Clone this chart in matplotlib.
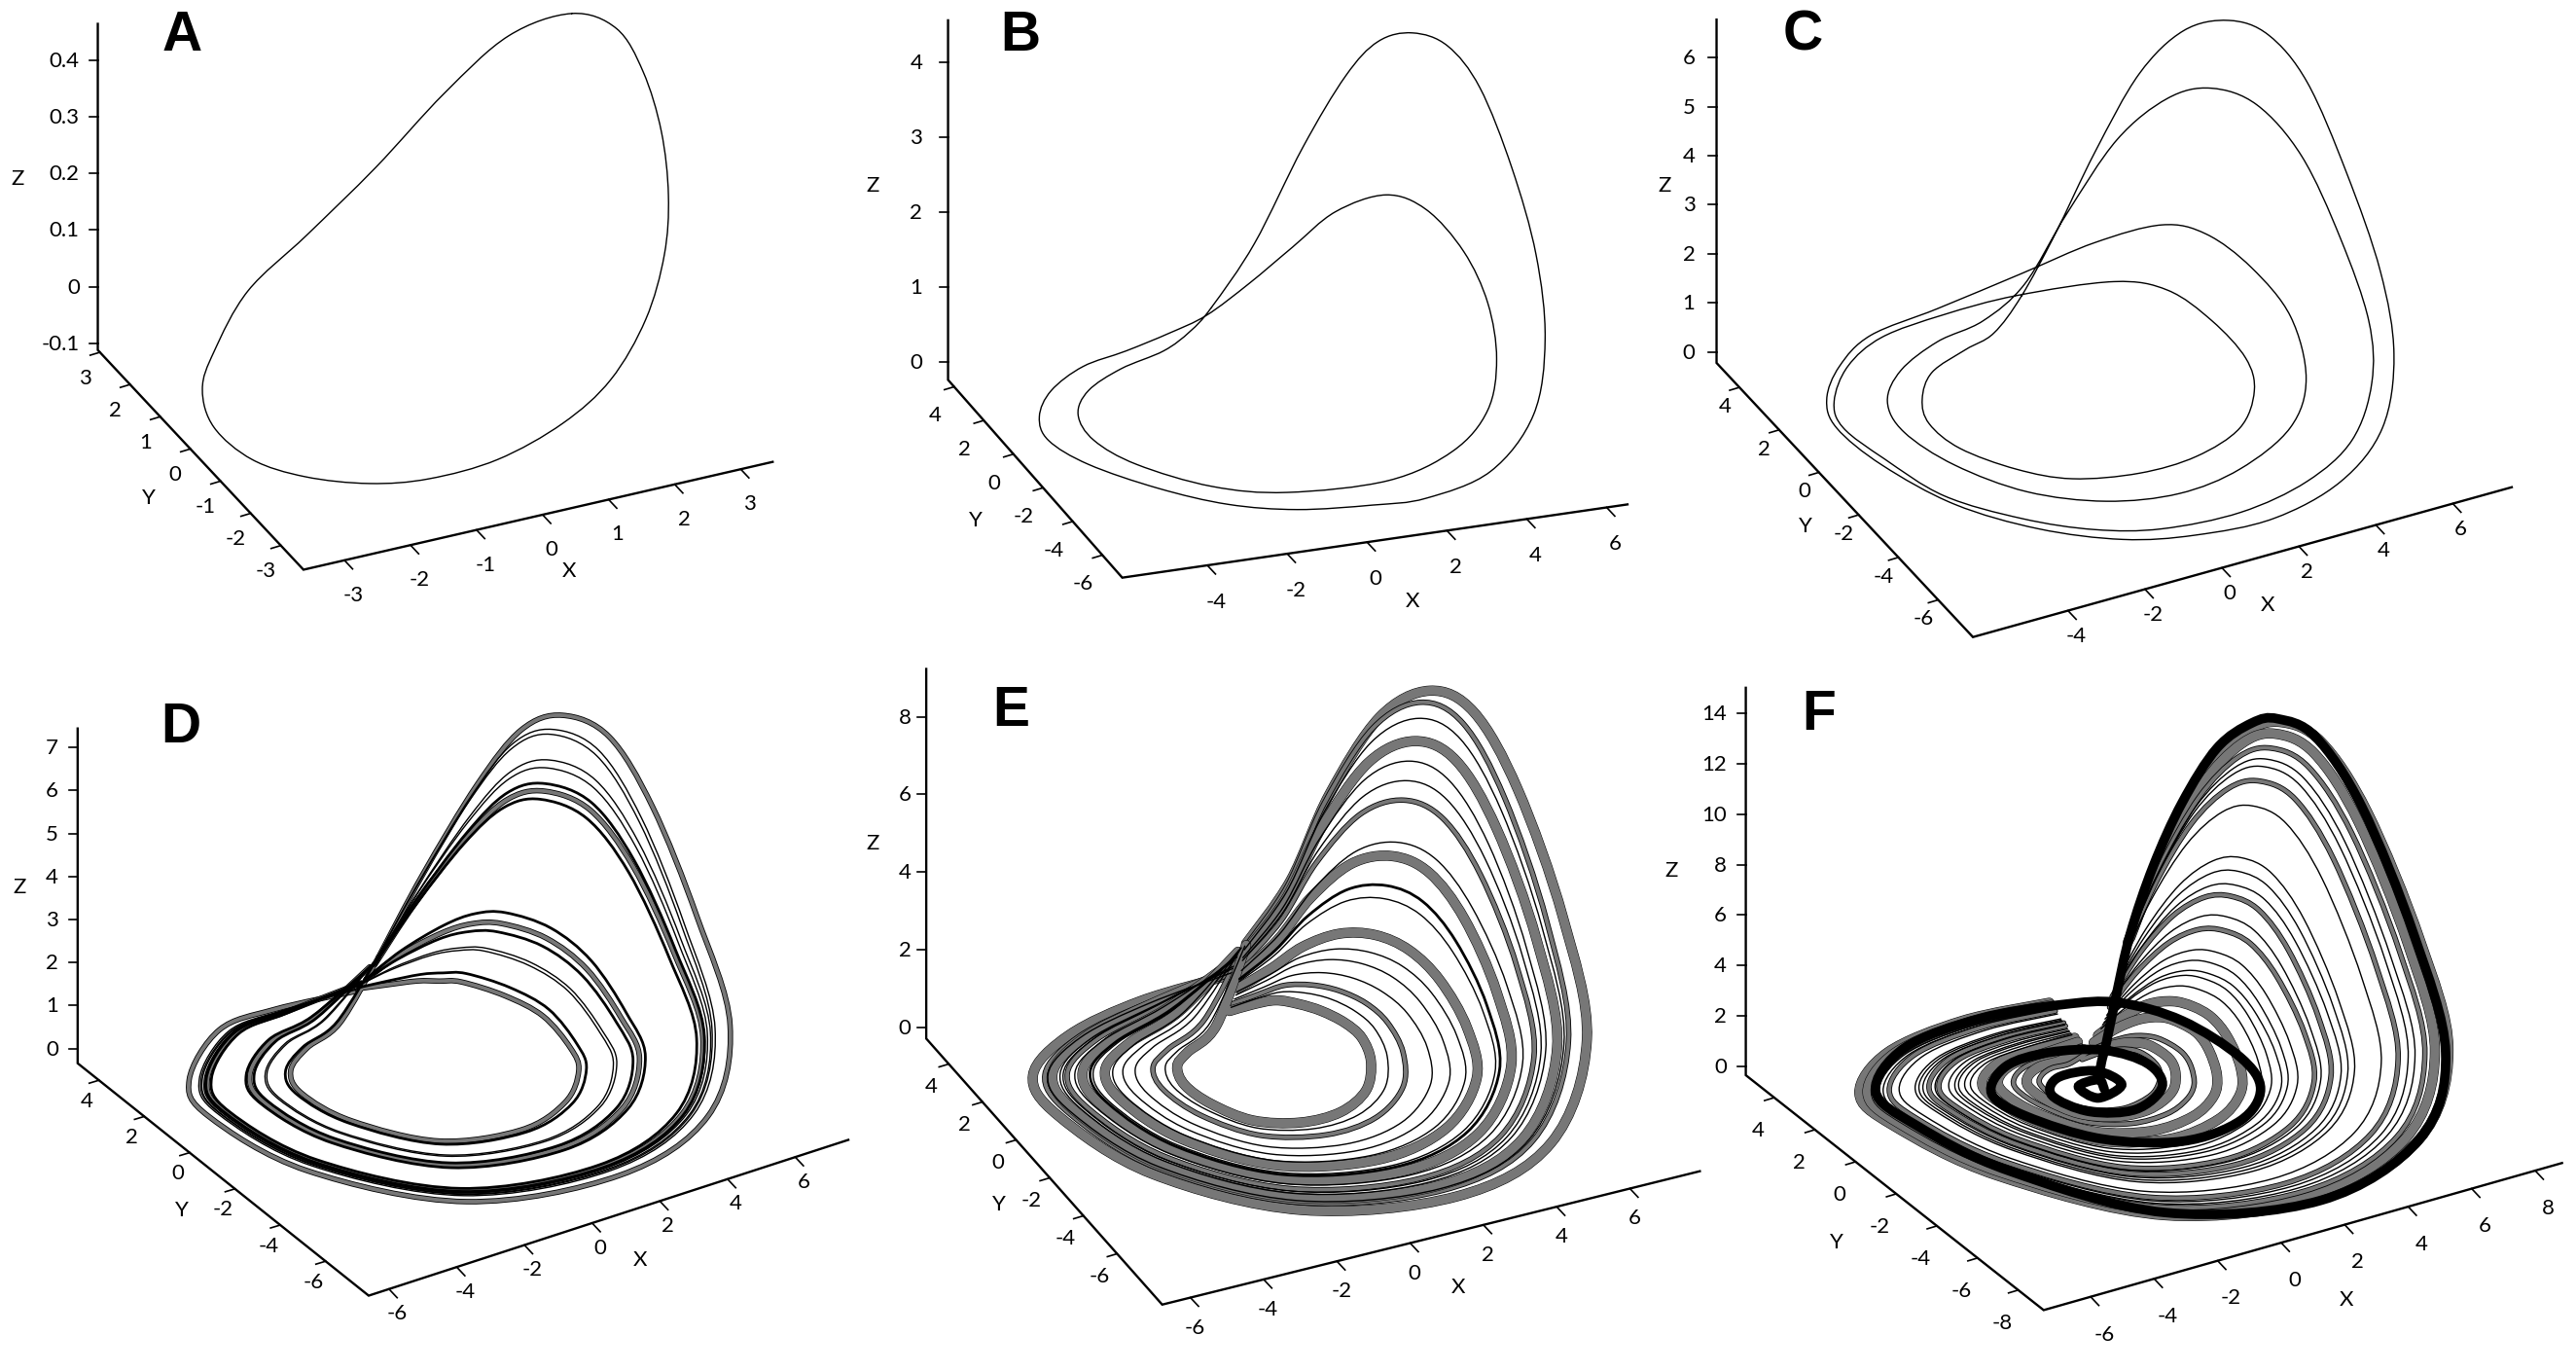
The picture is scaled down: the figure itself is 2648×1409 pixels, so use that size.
"""Redraws six phase portraits (panels A to F) as oblique 3D plots."""
import numpy as np
import matplotlib
matplotlib.use('Agg')
import matplotlib.pyplot as plt
from matplotlib.patches import PathPatch
from matplotlib.path import Path

OUTPUT_FILENAME = 'out.png'
WIDTH, HEIGHT = 2648, 1409

# Values, one closed curve each for A, B, C
A_X = [2.61,3.21,3.5,3.56,3.43,3.08,2.43,1.49,.45,-.72,-1.8,-2.6,-3.32,-3.78,-3.88,-3.58,-2.99,-1.9,-.62,.77,1.63,2.11]
A_Y = [1.0,.83,.58,.11,-.41,-1.04,-1.85,-2.75,-3.44,-3.84,-3.93,-3.7,-3.15,-2.4,-1.35,-.31,.59,1.86,2.72,3.47,3.08,2.0]
A_Z = [.433,.4,.33,.25,.17,.11,.06,.03,.02,.01,.01,.01,.01,.01,.01,.01,.01,.015,.03,.07,.2,.35]

B_X = [.07,1.1,2.14,2.88,3.54,4.18,4.85,5.19,5.8,6.1,5.97,5.41,3.64,1.78,.46,-1.3,-2.73,-3.97,-5.05,-5.47,-5.21,-4.44,-3.26,-1.99,-.8,.09,1.07,1.86,2.78,3.72,4.4,4.85,5.11,5.09,4.62,3.28,1.29,-1.19,-2.74,-3.98,-4.46,-4.31,-3.61,-2.46,-1.16,-.37]
B_Y = [3.33,3.21,2.76,1.86,1.45,.85,.29,-.97,-1.48,-2.31,-3.27,-4.0,-5.87,-6.52,-6.47,-6.13,-5.33,-3.95,-2.16,-.59,.73,2.01,3.04,3.57,3.86,3.73,3.5,2.71,2.28,1.4,.51,-.8,-1.72,-2.37,-3.03,-4.31,-5.3,-5.15,-4.26,-2.53,-.93,.54,1.73,2.63,3.25,3.6]
B_Z = [.5,1.3,2.6,3.7,4.2,4.4,4.3,4.0,3.0,2.0,1.1,.3,.1,.03,.03,.03,.03,.03,.03,.03,.03,.03,.03,.02,.1,.3,.7,1.3,1.8,2.15,2.1,1.8,1.3,.7,.2,.05,.03,.03,.03,.03,.03,.03,.03,.03,.03,.15]

C_X = [.6,1.37,2.25,3.04,3.73,4.49,5.16,5.7,6.21,6.57,6.51,5.56,3.85,1.78,-.15,-1.71,-3.24,-4.5,-5.24,-5.46,-5.11,-4.21,-2.97,-1.17,.76,2.4,3.42,4.01,4.56,5.01,4.75,3.76,2.02,.32,-1.32,-2.76,-3.74,-4.15,-3.9,-3.02,-1.71,-.47,.72,1.57,2.62,3.41,4.13,4.86,5.56,6.05,6.27,5.93,4.79,3.16,1.23,-.7,-2.1,-3.38,-4.55,-5.07,-5.32,-5.0,-4.04,-2.78,-1.12,.52,2.23,3.06,3.59,3.85,3.63,2.78,1.38,-.09,-1.58,-2.55,-3.31,-3.47,-3.14,-2.42,-1.29,-.44]
C_Y = [3.5,3.3,3.0,2.3,1.4,.6,-.1,-1.0,-2.0,-3.0,-3.8,-5.06,-6.28,-6.91,-6.7,-6.07,-4.8,-3.01,-.79,1.06,2.24,3.34,4.17,4.29,3.81,3.29,1.9,.8,-.4,-1.5,-2.79,-3.91,-4.75,-4.98,-4.47,-3.3,-1.55,.21,1.53,2.55,3.24,3.36,3.57,3.1,2.6,1.6,.8,-.1,-1.0,-2.0,-3.0,-3.81,-5.02,-5.91,-6.32,-6.08,-5.41,-4.25,-2.59,-.59,1.0,2.08,3.25,3.98,4.09,3.59,2.0,.9,-.3,-1.49,-2.35,-3.27,-3.79,-3.77,-3.28,-2.34,-.98,.26,1.25,2.15,2.65,2.88]
C_Z = [.31,1.49,3.1,4.83,5.95,6.34,6.2,5.51,3.98,2.33,1.0,.25,.06,.03,.02,0,0,0,0,0,0,0,0,.1,.6,1.1,1.84,2.0,1.72,1.1,.45,.15,.05,.02,0,0,0,0,0,0,0,.1,.5,1.95,3.45,4.55,4.95,4.84,4.03,2.68,1.38,.55,.15,.05,.02,0,0,0,0,0,0,0,0,0,.05,.3,.9,1.02,.8,.5,.25,.08,.03,0,0,0,0,0,0,0,0,.05]

# Panels D, E and F: one row per trip round the loop
D_X = [
    [1.39,2.55,3.77,4.4,4.95,5.66,6.14,6.64,6.82,4.75,1.46,-2.46,-4.99,-5.63,-5.08,-3.13,-1.44,.55],
    [1.31,2.38,3.55,4.16,4.71,5.4,5.87,6.34,6.47,4.5,1.37,-2.36,-4.77,-5.37,-4.84,-2.99,-1.34,.63],
    [1.3,2.34,3.51,4.12,4.66,5.35,5.82,6.28,6.4,4.45,1.35,-2.34,-4.72,-5.32,-4.8,-2.97,-1.32,.65],
    [1.29,2.33,3.49,4.09,4.63,5.32,5.79,6.25,6.36,4.42,1.35,-2.33,-4.7,-5.3,-4.77,-2.95,-1.31,.66],
    [1.27,2.29,3.44,4.05,4.58,5.27,5.74,6.19,6.29,4.37,1.33,-2.31,-4.65,-5.25,-4.72,-2.92,-1.29,.68],
    [1.26,2.26,3.4,4.0,4.53,5.22,5.68,6.13,6.22,4.32,1.31,-2.29,-4.61,-5.19,-4.68,-2.9,-1.27,.69],
    [1.25,2.24,3.38,3.98,4.51,5.19,5.65,6.1,6.18,4.29,1.3,-2.28,-4.59,-5.17,-4.65,-2.88,-1.26,.7],
    [1.22,2.17,3.29,3.88,4.41,5.09,5.55,5.98,6.04,4.19,1.27,-2.24,-4.5,-5.07,-4.56,-2.83,-1.22,.73],
    [.95,1.58,2.55,3.08,3.58,4.2,4.63,4.97,4.84,3.33,.97,-1.89,-3.74,-4.2,-3.75,-2.36,-.87,1.02],
    [.92,1.51,2.47,2.98,3.48,4.09,4.52,4.85,4.7,3.23,.93,-1.85,-3.65,-4.09,-3.66,-2.31,-.83,1.05],
    [.88,1.44,2.38,2.89,3.38,3.99,4.41,4.73,4.55,3.13,.9,-1.81,-3.56,-3.99,-3.56,-2.25,-.79,1.09],
    [.8,1.25,2.14,2.63,3.11,3.7,4.12,4.4,4.17,2.85,.8,-1.7,-3.31,-3.71,-3.3,-2.1,-.68,1.18],
    [.78,1.22,2.1,2.58,3.06,3.65,4.06,4.34,4.09,2.8,.78,-1.67,-3.27,-3.66,-3.26,-2.08,-.65,1.2],
    [.64,.91,1.71,2.16,2.62,3.18,3.58,3.8,3.46,2.35,.62,-1.49,-2.86,-3.2,-2.83,-1.83,-.47,1.35],
    [.6,.82,1.6,2.04,2.5,3.05,3.44,3.65,3.28,2.22,.58,-1.44,-2.75,-3.07,-2.71,-1.76,-.42,1.39],
]
D_Y = [
    [3.6,3.4,2.8,1.8,.8,-.2,-1.4,-2.6,-3.8,-5.92,-6.95,-6.03,-2.78,.62,2.29,3.87,3.97,3.3],
    [3.58,3.31,2.74,1.81,.88,-.13,-1.32,-2.49,-3.66,-5.67,-6.65,-5.76,-2.64,.59,2.2,3.69,3.83,3.33],
    [3.57,3.29,2.73,1.81,.9,-.12,-1.3,-2.47,-3.63,-5.62,-6.59,-5.7,-2.61,.58,2.18,3.65,3.81,3.34],
    [3.57,3.28,2.72,1.81,.9,-.11,-1.3,-2.46,-3.62,-5.59,-6.55,-5.68,-2.6,.58,2.17,3.63,3.79,3.34],
    [3.57,3.27,2.71,1.82,.92,-.1,-1.28,-2.44,-3.59,-5.54,-6.49,-5.62,-2.57,.58,2.15,3.6,3.76,3.35],
    [3.56,3.25,2.7,1.82,.94,-.08,-1.26,-2.41,-3.56,-5.49,-6.43,-5.57,-2.54,.57,2.13,3.56,3.74,3.35],
    [3.56,3.24,2.69,1.82,.94,-.07,-1.26,-2.4,-3.55,-5.46,-6.4,-5.54,-2.53,.57,2.12,3.54,3.72,3.35],
    [3.55,3.2,2.67,1.82,.98,-.05,-1.22,-2.36,-3.49,-5.36,-6.28,-5.43,-2.47,.55,2.08,3.47,3.67,3.37],
    [3.48,2.9,2.46,1.86,1.25,.19,-.95,-1.98,-3.02,-4.5,-5.25,-4.5,-2.0,.45,1.76,2.85,3.2,3.47],
    [3.47,2.87,2.44,1.86,1.28,.22,-.92,-1.94,-2.97,-4.4,-5.13,-4.39,-1.94,.44,1.73,2.77,3.15,3.48],
    [3.47,2.83,2.42,1.86,1.31,.25,-.89,-1.9,-2.91,-4.3,-5.0,-4.28,-1.88,.43,1.69,2.7,3.09,3.49],
    [3.44,2.73,2.35,1.88,1.4,.33,-.8,-1.78,-2.76,-4.02,-4.67,-3.98,-1.73,.4,1.59,2.5,2.94,3.53],
    [3.44,2.71,2.34,1.88,1.42,.34,-.78,-1.75,-2.73,-3.97,-4.61,-3.93,-1.7,.39,1.57,2.46,2.92,3.53],
    [3.4,2.55,2.23,1.9,1.56,.47,-.64,-1.56,-2.48,-3.52,-4.06,-3.44,-1.45,.34,1.4,2.13,2.67,3.59],
    [3.39,2.51,2.2,1.9,1.6,.5,-.6,-1.5,-2.41,-3.39,-3.91,-3.3,-1.38,.32,1.35,2.04,2.6,3.6],
]
D_Z = [
    [.65,2.34,4.39,5.92,6.54,6.28,5.03,2.87,.79,.1,0,0,0,0,0,0,0,.2],
    [.63,2.25,4.2,5.66,6.24,6.0,4.8,2.73,.75,.1,0,0,0,0,0,0,0,.22],
    [.62,2.22,4.13,5.55,6.13,5.88,4.71,2.68,.74,.09,0,0,0,0,0,0,0,.23],
    [.57,2.04,3.75,5.02,5.54,5.32,4.26,2.4,.66,.08,0,0,0,0,0,0,0,.28],
    [.56,2.0,3.64,4.86,5.36,5.15,4.13,2.32,.64,.08,0,0,0,0,0,0,0,.29],
    [.53,1.89,3.41,4.55,5.0,4.81,3.86,2.15,.6,.07,0,0,0,0,0,0,0,.32],
    [.52,1.84,3.3,4.39,4.83,4.64,3.72,2.07,.58,.07,0,0,0,0,0,0,0,.33],
    [.51,1.78,3.19,4.23,4.65,4.47,3.59,1.98,.55,.07,0,0,0,0,0,0,0,.34],
    [.31,1.04,1.57,1.96,2.11,2.04,1.65,.79,.24,.03,0,0,0,0,0,0,0,.54],
    [.29,.97,1.42,1.75,1.87,1.82,1.47,.68,.21,.02,0,0,0,0,0,0,0,.56],
    [.28,.91,1.31,1.59,1.69,1.65,1.33,.6,.18,.02,0,0,0,0,0,0,0,.57],
    [.25,.81,1.08,1.27,1.34,1.31,1.06,.43,.14,.01,0,0,0,0,0,0,0,.6],
    [.25,.79,1.04,1.22,1.28,1.25,1.02,.4,.13,.01,0,0,0,0,0,0,0,.6],
    [.21,.65,.74,.8,.81,.8,.66,.18,.07,0,0,0,0,0,0,0,0,.64],
    [.2,.6,.63,.64,.63,.63,.52,.1,.05,0,0,0,0,0,0,0,0,.65],
]
D_WEIGHTS = ['band','line','line','line','line','heavy','band','heavy','heavy','band','heavy','line','line','heavy','band']

E_X = [
    [1.2,2.32,3.15,4.07,4.89,5.6,6.25,6.79,6.81,4.84,1.74,-2.0,-4.62,-5.57,-5.33,-3.72,-1.44,.83],
    [1.12,2.19,2.99,3.86,4.64,5.32,5.93,6.42,6.39,4.5,1.57,-1.94,-4.4,-5.28,-5.05,-3.53,-1.34,.86],
    [1.1,2.16,2.96,3.81,4.58,5.25,5.85,6.32,6.29,4.42,1.53,-1.92,-4.34,-5.21,-4.98,-3.48,-1.32,.87],
    [1.07,2.11,2.9,3.74,4.49,5.15,5.73,6.18,6.13,4.29,1.46,-1.9,-4.26,-5.1,-4.87,-3.41,-1.28,.88],
    [1.02,2.03,2.8,3.61,4.34,4.97,5.54,5.95,5.87,4.08,1.36,-1.87,-4.11,-4.92,-4.69,-3.29,-1.22,.9],
    [1.0,2.0,2.76,3.56,4.28,4.9,5.46,5.86,5.76,3.99,1.32,-1.85,-4.06,-4.85,-4.62,-3.24,-1.2,.91],
    [.98,1.95,2.7,3.48,4.19,4.8,5.34,5.72,5.6,3.87,1.25,-1.83,-3.97,-4.75,-4.52,-3.17,-1.17,.92],
    [.93,1.87,2.61,3.35,4.03,4.63,5.14,5.49,5.34,3.66,1.15,-1.8,-3.83,-4.57,-4.34,-3.05,-1.11,.94],
    [.88,1.79,2.51,3.22,3.88,4.45,4.94,5.25,5.08,3.45,1.04,-1.76,-3.69,-4.39,-4.16,-2.93,-1.05,.96],
    [.83,1.71,2.41,3.1,3.73,4.28,4.74,5.02,4.81,3.24,.94,-1.73,-3.55,-4.21,-3.98,-2.81,-.99,.98],
    [.81,1.68,2.37,3.04,3.66,4.21,4.66,4.93,4.71,3.16,.89,-1.71,-3.49,-4.14,-3.91,-2.76,-.96,.99],
    [.73,1.56,2.22,2.84,3.42,3.93,4.35,4.56,4.29,2.83,.73,-1.66,-3.27,-3.85,-3.63,-2.57,-.87,1.02],
    [.68,1.48,2.12,2.71,3.27,3.76,4.15,4.32,4.02,2.62,.62,-1.62,-3.12,-3.67,-3.45,-2.45,-.81,1.04],
    [.61,1.36,1.98,2.53,3.05,3.51,3.87,4.0,3.65,2.32,.47,-1.57,-2.93,-3.42,-3.21,-2.28,-.73,1.07],
    [.53,1.24,1.83,2.33,2.81,3.23,3.55,3.63,3.23,1.99,.3,-1.51,-2.7,-3.13,-2.92,-2.09,-.63,1.1],
    [.42,1.05,1.59,2.02,2.44,2.82,3.07,3.07,2.6,1.48,.05,-1.43,-2.36,-2.7,-2.5,-1.8,-.49,1.15],
    [.34,.92,1.44,1.82,2.2,2.54,2.76,2.7,2.18,1.15,-.12,-1.37,-2.13,-2.42,-2.21,-1.61,-.4,1.18],
    [.26,.79,1.28,1.61,1.95,2.26,2.44,2.32,1.76,.81,-.29,-1.31,-1.91,-2.13,-1.93,-1.42,-.3,1.21],
]
E_Y = [
    [3.68,3.48,2.98,1.99,.8,-.29,-1.48,-2.97,-4.36,-6.52,-7.65,-6.57,-3.41,.11,2.13,3.48,4.18,3.84],
    [3.59,3.39,2.91,1.94,.8,-.26,-1.4,-2.83,-4.18,-6.21,-7.24,-6.2,-3.21,.11,2.03,3.31,4.01,3.83],
    [3.57,3.37,2.89,1.93,.8,-.25,-1.38,-2.79,-4.13,-6.13,-7.14,-6.11,-3.16,.11,2.0,3.27,3.97,3.82],
    [3.53,3.33,2.86,1.92,.81,-.23,-1.35,-2.74,-4.07,-6.02,-6.99,-5.97,-3.09,.1,1.97,3.21,3.91,3.82],
    [3.48,3.28,2.81,1.89,.81,-.21,-1.29,-2.65,-3.96,-5.82,-6.74,-5.75,-2.96,.1,1.91,3.1,3.8,3.81],
    [3.46,3.26,2.8,1.88,.81,-.2,-1.27,-2.62,-3.91,-5.74,-6.63,-5.65,-2.91,.1,1.88,3.06,3.76,3.81],
    [3.42,3.22,2.77,1.86,.81,-.19,-1.24,-2.57,-3.85,-5.63,-6.48,-5.52,-2.84,.1,1.85,3.0,3.7,3.81],
    [3.37,3.17,2.72,1.83,.81,-.17,-1.19,-2.48,-3.74,-5.43,-6.23,-5.29,-2.72,.1,1.79,2.89,3.59,3.8],
    [3.31,3.11,2.67,1.8,.81,-.14,-1.14,-2.39,-3.63,-5.24,-5.98,-5.06,-2.59,.1,1.73,2.79,3.49,3.79],
    [3.26,3.06,2.63,1.78,.82,-.12,-1.09,-2.31,-3.52,-5.04,-5.72,-4.83,-2.47,.09,1.67,2.68,3.38,3.78],
    [3.23,3.03,2.61,1.76,.82,-.11,-1.07,-2.27,-3.47,-4.96,-5.62,-4.74,-2.42,.09,1.64,2.64,3.34,3.78],
    [3.15,2.95,2.54,1.72,.82,-.08,-.99,-2.14,-3.3,-4.65,-5.22,-4.38,-2.22,.09,1.55,2.47,3.18,3.77],
    [3.09,2.89,2.49,1.69,.82,-.05,-.93,-2.05,-3.18,-4.46,-4.96,-4.15,-2.1,.09,1.48,2.37,3.07,3.76],
    [3.01,2.81,2.42,1.65,.82,-.02,-.86,-1.93,-3.03,-4.18,-4.61,-3.83,-1.92,.09,1.4,2.22,2.92,3.75],
    [2.92,2.72,2.35,1.61,.83,.02,-.78,-1.79,-2.85,-3.87,-4.2,-3.46,-1.72,.08,1.3,2.05,2.76,3.74],
    [2.79,2.59,2.24,1.54,.83,.07,-.66,-1.58,-2.59,-3.4,-3.59,-2.91,-1.43,.08,1.16,1.8,2.51,3.73],
    [2.7,2.5,2.16,1.5,.84,.11,-.57,-1.44,-2.41,-3.09,-3.19,-2.55,-1.23,.07,1.06,1.63,2.34,3.71],
    [2.61,2.41,2.09,1.45,.84,.14,-.49,-1.3,-2.23,-2.78,-2.78,-2.18,-1.03,.07,.96,1.46,2.17,3.7],
]
E_Z = [
    [1.1,2.56,4.83,7.09,8.16,7.97,6.41,3.74,1.25,.1,0,0,0,0,0,0,0,.3],
    [1.07,2.49,4.69,6.88,7.92,7.73,6.22,3.63,1.21,.1,0,0,0,0,0,0,0,.32],
    [1.02,2.36,4.45,6.53,7.52,7.34,5.9,3.44,1.15,.09,0,0,0,0,0,0,.01,.36],
    [.94,2.19,4.12,6.04,6.95,6.79,5.46,3.18,1.06,.09,0,0,0,0,0,0,.02,.42],
    [.88,2.04,3.84,5.63,6.47,6.31,5.07,2.96,.99,.08,0,0,0,0,0,0,.02,.47],
    [.82,1.9,3.56,5.21,5.98,5.84,4.69,2.74,.91,.07,0,0,0,0,0,0,.03,.52],
    [.75,1.75,3.28,4.79,5.5,5.37,4.31,2.51,.84,.07,0,0,0,0,0,0,.03,.56],
    [.62,1.43,2.66,3.88,4.45,4.34,3.48,2.03,.68,.05,0,0,0,0,0,0,.05,.67],
    [.58,1.33,2.48,3.61,4.13,4.03,3.23,1.88,.63,.05,0,0,0,0,0,0,.05,.7],
    [.48,1.11,2.05,2.98,3.4,3.32,2.66,1.55,.51,.04,0,0,0,0,0,0,.06,.77],
    [.44,1.01,1.86,2.7,3.08,3.0,2.4,1.4,.46,.04,0,0,0,0,0,0,.06,.8],
    [.32,.74,1.34,1.93,2.2,2.13,1.7,.99,.33,.03,0,0,0,0,0,0,.07,.89],
    [.27,.62,1.11,1.58,1.79,1.74,1.39,.8,.26,.02,0,0,0,0,0,0,.08,.93],
    [.24,.54,.97,1.37,1.55,1.5,1.19,.69,.23,.02,0,0,0,0,0,0,.08,.96],
    [.2,.44,.78,1.1,1.23,1.18,.94,.54,.18,.01,0,0,0,0,0,0,.09,.99],
    [.17,.37,.64,.89,.99,.95,.75,.43,.14,.01,0,0,0,0,0,0,.09,1.01],
    [.14,.32,.54,.75,.83,.79,.62,.35,.11,.01,0,0,0,0,0,0,.09,1.03],
    [.11,.25,.4,.54,.58,.55,.43,.24,.08,.01,0,0,0,0,0,0,.09,1.05],
]
E_WEIGHTS = ['wide','band','line','wide','line','line','band','line','wide','heavy','line','wide','line','line','line','band','line','wide']

F_X = [
    [2.77,3.8,4.82,5.58,6.17,6.87,7.49,8.11,7.99,5.88,1.98,-2.15,-4.87,-5.81,-5.65,-3.8,-1.13,1.05],
    [2.66,3.67,4.66,5.4,5.97,6.64,7.22,7.8,7.66,5.62,1.87,-2.1,-4.71,-5.61,-5.44,-3.65,-1.08,1.03],
    [2.58,3.57,4.55,5.27,5.82,6.46,7.02,7.57,7.42,5.43,1.78,-2.07,-4.59,-5.46,-5.29,-3.54,-1.04,1.02],
    [2.5,3.48,4.43,5.14,5.67,6.29,6.82,7.33,7.18,5.24,1.7,-2.03,-4.48,-5.31,-5.13,-3.44,-1.0,1.01],
    [2.45,3.41,4.35,5.05,5.57,6.17,6.68,7.18,7.01,5.11,1.64,-2.01,-4.4,-5.21,-5.03,-3.36,-.97,1.0],
    [2.37,3.31,4.23,4.91,5.42,6.0,6.48,6.94,6.77,4.91,1.56,-1.97,-4.28,-5.06,-4.87,-3.25,-.93,.98],
    [2.24,3.15,4.04,4.69,5.17,5.7,6.14,6.55,6.36,4.59,1.41,-1.92,-4.08,-4.8,-4.61,-3.07,-.87,.96],
    [2.03,2.89,3.73,4.33,4.77,5.23,5.6,5.93,5.71,4.08,1.19,-1.82,-3.76,-4.4,-4.19,-2.78,-.76,.93],
    [1.97,2.83,3.65,4.25,4.67,5.12,5.47,5.78,5.55,3.95,1.13,-1.8,-3.69,-4.3,-4.09,-2.71,-.74,.92],
    [1.92,2.76,3.57,4.16,4.57,5.0,5.33,5.62,5.38,3.82,1.07,-1.78,-3.61,-4.2,-3.99,-2.63,-.71,.91],
    [1.84,2.66,3.45,4.02,4.42,4.82,5.13,5.39,5.14,3.63,.99,-1.74,-3.49,-4.05,-3.83,-2.52,-.67,.9],
    [1.76,2.57,3.33,3.89,4.27,4.65,4.93,5.15,4.89,3.43,.9,-1.71,-3.37,-3.9,-3.67,-2.41,-.63,.88],
    [1.71,2.5,3.26,3.8,4.17,4.53,4.79,5.0,4.73,3.3,.85,-1.68,-3.29,-3.8,-3.57,-2.34,-.61,.87],
    [1.57,2.34,3.06,3.58,3.92,4.24,4.46,4.61,4.32,2.98,.71,-1.62,-3.09,-3.55,-3.31,-2.16,-.54,.85],
    [1.49,2.24,2.94,3.44,3.77,4.06,4.25,4.38,4.08,2.79,.62,-1.59,-2.97,-3.4,-3.15,-2.05,-.5,.84],
    [1.44,2.18,2.87,3.36,3.67,3.95,4.12,4.22,3.92,2.66,.57,-1.57,-2.9,-3.3,-3.05,-1.98,-.48,.83],
    [1.36,2.08,2.75,3.22,3.51,3.77,3.92,3.99,3.67,2.47,.48,-1.53,-2.78,-3.14,-2.89,-1.87,-.44,.82],
    [1.28,1.98,2.63,3.09,3.36,3.59,3.72,3.75,3.43,2.27,.4,-1.49,-2.66,-2.99,-2.74,-1.76,-.4,.8],
    [1.12,1.79,2.4,2.82,3.06,3.24,3.31,3.29,2.94,1.89,.23,-1.42,-2.42,-2.69,-2.43,-1.54,-.32,.78],
    [.91,1.53,2.08,2.47,2.66,2.78,2.77,2.66,2.29,1.37,0,-1.33,-2.11,-2.29,-2.01,-1.25,-.21,.74],
    [.7,1.27,1.77,2.11,2.26,2.31,2.23,2.04,1.63,.86,-.23,-1.24,-1.79,-1.89,-1.59,-.95,-.11,.71],
    [.51,1.04,1.5,1.8,1.91,1.9,1.76,1.5,1.06,.41,-.43,-1.16,-1.51,-1.53,-1.23,-.7,-.02,.68],
    [.32,.81,1.22,1.49,1.56,1.49,1.29,.95,.49,-.04,-.62,-1.07,-1.24,-1.18,-.87,-.44,.08,.65],
]
F_Y = [
    [2.5,2.4,2.0,1.2,.4,-.5,-1.8,-3.4,-5.0,-6.87,-8.13,-6.89,-2.88,.77,2.67,4.18,4.66,3.79],
    [2.44,2.33,1.94,1.15,.37,-.52,-1.78,-3.32,-4.85,-6.63,-7.83,-6.62,-2.75,.77,2.6,4.06,4.51,3.68],
    [2.39,2.28,1.89,1.12,.34,-.53,-1.76,-3.25,-4.73,-6.46,-7.6,-6.41,-2.65,.77,2.55,3.96,4.4,3.6],
    [2.34,2.23,1.85,1.09,.32,-.54,-1.74,-3.19,-4.62,-6.28,-7.38,-6.21,-2.55,.77,2.51,3.87,4.3,3.52],
    [2.31,2.2,1.82,1.06,.3,-.55,-1.73,-3.15,-4.55,-6.16,-7.22,-6.07,-2.48,.77,2.47,3.81,4.22,3.47],
    [2.26,2.15,1.77,1.03,.27,-.57,-1.71,-3.09,-4.43,-5.99,-7.0,-5.87,-2.38,.77,2.42,3.72,4.11,3.39],
    [2.18,2.07,1.69,.97,.23,-.59,-1.68,-2.98,-4.24,-5.69,-6.62,-5.53,-2.22,.77,2.34,3.56,3.93,3.25],
    [2.05,1.94,1.57,.88,.16,-.62,-1.64,-2.82,-3.94,-5.22,-6.02,-4.99,-1.95,.78,2.21,3.31,3.64,3.04],
    [2.02,1.9,1.54,.86,.15,-.63,-1.63,-2.78,-3.86,-5.11,-5.87,-4.85,-1.89,.78,2.18,3.25,3.57,2.99],
    [1.99,1.87,1.51,.84,.13,-.64,-1.61,-2.73,-3.79,-4.99,-5.72,-4.71,-1.82,.78,2.14,3.19,3.49,2.93],
    [1.94,1.82,1.46,.8,.1,-.65,-1.6,-2.67,-3.67,-4.81,-5.49,-4.51,-1.72,.78,2.09,3.1,3.38,2.85],
    [1.9,1.77,1.41,.77,.08,-.67,-1.58,-2.61,-3.56,-4.64,-5.26,-4.31,-1.62,.78,2.04,3.0,3.27,2.77],
    [1.86,1.74,1.38,.75,.06,-.68,-1.57,-2.57,-3.48,-4.52,-5.11,-4.17,-1.56,.78,2.01,2.94,3.2,2.72],
    [1.78,1.65,1.31,.69,.02,-.7,-1.54,-2.46,-3.29,-4.22,-4.74,-3.83,-1.39,.78,1.93,2.79,3.02,2.58],
    [1.74,1.6,1.26,.66,0,-.71,-1.52,-2.4,-3.18,-4.05,-4.51,-3.63,-1.29,.78,1.88,2.69,2.91,2.5],
    [1.71,1.57,1.23,.64,-.02,-.72,-1.51,-2.36,-3.11,-3.93,-4.36,-3.49,-1.23,.78,1.85,2.63,2.84,2.45],
    [1.66,1.52,1.18,.6,-.05,-.73,-1.49,-2.3,-2.99,-3.75,-4.13,-3.29,-1.13,.78,1.8,2.54,2.73,2.37],
    [1.61,1.47,1.14,.57,-.08,-.75,-1.48,-2.24,-2.88,-3.58,-3.91,-3.08,-1.03,.78,1.75,2.44,2.62,2.29],
    [1.51,1.37,1.05,.5,-.13,-.77,-1.44,-2.11,-2.65,-3.22,-3.46,-2.67,-.83,.78,1.65,2.26,2.4,2.13],
    [1.39,1.24,.92,.41,-.2,-.81,-1.39,-1.94,-2.35,-2.75,-2.85,-2.13,-.56,.78,1.52,2.01,2.11,1.91],
    [1.26,1.11,.8,.32,-.26,-.84,-1.35,-1.78,-2.04,-2.28,-2.25,-1.59,-.3,.79,1.38,1.76,1.81,1.7],
    [1.15,.99,.69,.24,-.32,-.87,-1.31,-1.63,-1.78,-1.87,-1.72,-1.11,-.07,.79,1.27,1.55,1.56,1.51],
    [1.04,.87,.58,.16,-.38,-.9,-1.27,-1.49,-1.51,-1.46,-1.19,-.63,.17,.79,1.15,1.33,1.3,1.32],
]
F_Z = [
    [3.28,6.44,9.28,11.24,11.96,11.49,9.3,5.05,1.74,.14,0,0,0,0,0,0,0,.49],
    [3.18,6.24,9.0,10.89,11.59,11.13,9.01,4.89,1.68,.14,0,0,0,0,0,0,0,.48],
    [3.05,5.98,8.61,10.42,11.09,10.65,8.62,4.68,1.61,.13,0,0,0,0,0,0,0,.47],
    [2.95,5.78,8.32,10.07,10.72,10.29,8.33,4.52,1.56,.13,0,0,0,0,0,0,0,.46],
    [2.88,5.64,8.13,9.84,10.47,10.05,8.14,4.42,1.52,.13,0,0,0,0,0,0,0,.45],
    [2.75,5.38,7.75,9.37,9.97,9.58,7.75,4.21,1.45,.12,0,0,0,0,0,0,0,.44],
    [2.51,4.91,7.07,8.56,9.1,8.74,7.07,3.84,1.32,.11,0,0,0,0,0,0,0,.42],
    [2.0,3.91,5.63,6.8,7.23,6.94,5.62,3.05,1.05,.09,0,0,0,0,0,0,0,.37],
    [1.87,3.65,5.24,6.34,6.73,6.46,5.23,2.84,.98,.08,0,0,0,0,0,0,0,.36],
    [1.74,3.38,4.86,5.87,6.23,5.99,4.85,2.63,.91,.08,0,0,0,0,0,0,0,.35],
    [1.63,3.18,4.57,5.52,5.86,5.63,4.55,2.47,.85,.07,0,0,0,0,0,0,0,.34],
    [1.43,2.78,3.99,4.82,5.11,4.91,3.97,2.16,.74,.06,0,0,0,0,0,0,0,.32],
    [1.3,2.51,3.61,4.35,4.61,4.43,3.59,1.95,.67,.06,0,0,0,0,0,0,0,.31],
    [1.09,2.11,3.03,3.65,3.86,3.71,3.0,1.63,.56,.05,0,0,0,0,0,0,0,.29],
    [.99,1.91,2.74,3.3,3.49,3.35,2.71,1.47,.51,.04,0,0,0,0,0,0,0,.28],
    [.89,1.72,2.46,2.95,3.12,2.99,2.42,1.32,.45,.04,0,0,0,0,0,0,0,.28],
    [.86,1.65,2.36,2.83,2.99,2.87,2.33,1.26,.43,.04,0,0,0,0,0,0,0,.27],
    [.76,1.45,2.07,2.48,2.62,2.51,2.03,1.1,.38,.03,0,0,0,0,0,0,0,.26],
    [.62,1.18,1.69,2.01,2.12,2.03,1.65,.89,.31,.03,0,0,0,0,0,0,0,.25],
    [.49,.92,1.3,1.55,1.62,1.56,1.26,.68,.24,.02,0,0,0,0,0,0,0,.24],
    [.32,.58,.82,.96,1.0,.96,.78,.42,.14,.01,0,0,0,0,0,0,0,.22],
    [.29,.52,.72,.85,.87,.84,.68,.37,.13,.01,0,0,0,0,0,0,0,.22],
    [.25,.45,.63,.73,.75,.72,.58,.32,.11,.01,0,0,0,0,0,0,0,.22],
]
F_WEIGHTS = ['wide','wide','band','line','line','band','line','line','line','line','band','line','band','line','line','line','line','line','wide','wide','band','wide','band']

# The thick black run through panel F, from the centre up the spike and back in
F_SPIRAL_X = [.29,.67,.79,1.02,1.45,2.13,3.04,4.12,5.0,5.5,6.29,7.15,8.16,8.17,5.92,1.91,-2.07,-4.46,-5.27,-5.21,-3.27,-.66,1.18,2.36,3.37,3.94,3.7,2.37,.43,-1.38,-2.46,-2.59,-1.45,-.05,1.18,1.9,1.56,.29,-.85,-1.25,-.59,.48,.69,-.25,-.38,.29,.15]
F_SPIRAL_Y = [.19,.63,.59,.48,.44,.37,.37,.34,0,-.49,-1.12,-2.06,-3.03,-4.58,-6.82,-8.24,-6.77,-2.82,.47,2.56,4.17,4.54,3.42,2.42,.88,-1.08,-2.46,-3.54,-3.73,-2.56,-.54,.95,2.01,2.08,1.29,.28,-.96,-1.66,-1.16,.06,.81,.63,-.33,-.65,.13,.19,-.31]
F_SPIRAL_Z = [0,.3,1.0,2.8,5.2,7.7,9.9,11.7,12.6,12.9,12.3,9.8,5.0,1.3,.1,0,0,0,0,0,0,0,.6,.9,.8,.4,.1,0,0,0,0,0,0,0,.15,0,0,0,0,0,0,0,0,0,0,0,0]

# Tick values of each panel
A_XTICKS, A_YTICKS, A_ZTICKS = [-3,-2,-1,0,1,2,3], [-3,-2,-1,0,1,2,3], [-0.1,0,0.1,0.2,0.3,0.4]
B_XTICKS, B_YTICKS, B_ZTICKS = [-4,-2,0,2,4,6], [-6,-4,-2,0,2,4], [0,1,2,3,4]
C_XTICKS, C_YTICKS, C_ZTICKS = [-4,-2,0,2,4,6], [-6,-4,-2,0,2,4], [0,1,2,3,4,5,6]
D_XTICKS, D_YTICKS, D_ZTICKS = [-6,-4,-2,0,2,4,6], [-6,-4,-2,0,2,4], [0,1,2,3,4,5,6,7]
E_XTICKS, E_YTICKS, E_ZTICKS = [-6,-4,-2,0,2,4,6], [-6,-4,-2,0,2,4], [0,2,4,6,8]
F_XTICKS, F_YTICKS, F_ZTICKS = [-6,-4,-2,0,2,4,6,8], [-8,-6,-4,-2,0,2,4], [0,2,4,6,8,10,12,14]

# Oblique view of each panel in figure pixels: where (0,0,0) lands, what one
# unit of x, y, z moves by, the axis ranges, label offsets and label places
GEOMETRY = {
    'A': dict(origin=(441.5, 339.7), ex=(67.9, -15.6), ey=(-31.0, -33.1), ez=(0, -582.0),
              xlim=(-3.62, 3.5), ylim=(-3.75, 3.07), zlim=(-.112, .466),
              xoff=(9.4, 36), yoff=(-15.4, 26.6), zoff=-18.7,
              letter=(187, 37), xlabel=(585, 587), ylabel=(153, 512), zlabel=(18, 184)),
    'B': dict(origin=(1293.4, 412.2), ex=(41.05, -5.95), ey=(-15.24, -17.3), ez=(0, -77.0),
              xlim=(-6.13, 6.55), ylim=(-7.34, 4.41), zlim=(-.234, 4.58),
              xoff=(8.8, 37.7), yoff=(-19.8, 30), zoff=-26.4,
              letter=(1049, 37), xlabel=(1452, 618), ylabel=(1003, 535), zlabel=(897, 191)),
    'C': dict(origin=(2125.7, 403.0), ex=(39.56, -11.0), ey=(-20.43, -21.84), ez=(0, -50.4),
              xlim=(-6.47, 7.56), ylim=(-7.75, 5.15), zlim=(-.224, 6.8),
              xoff=(8, 26.6), yoff=(-15, 20), zoff=-22,
              letter=(1853, 37), xlabel=(2331, 622), ylabel=(1856, 541), zlabel=(1711, 191)),
    'D': dict(origin=(424.6, 1095.0), ex=(34.8, -11.3), ey=(-23.3, -18.6), ez=(0, -44.2),
              xlim=(-6.6, 7.6), ylim=(-7.9, 4.94), zlim=(-.34, 7.47),
              xoff=(8.5, 25.7), yoff=(-12.4, 21.5), zoff=-20,
              letter=(186, 748), xlabel=(658, 1295), ylabel=(187, 1244), zlabel=(20, 912)),
    'E': dict(origin=(1299.4, 1096.7), ex=(37.65, -9.34), ey=(-17.3, -19.5), ez=(0, -39.9),
              xlim=(-6.77, 7.94), ylim=(-8.68, 5.34), zlim=(-.29, 9.26),
              xoff=(4.6, 31), yoff=(-18.5, 23), zoff=-15.6,
              letter=(1039, 731), xlabel=(1499, 1323), ylabel=(1027, 1238), zlabel=(897, 867)),
    'F': dict(origin=(2151.6, 1115.4), ex=(32.64, -9.26), ey=(-20.9, -16.48), ez=(0, -25.88),
              xlim=(-7.48, 8.88), ylim=(-9.25, 5.4), zlim=(-.36, 15.07),
              xoff=(13.7, 38.8), yoff=(-16.7, 34), zoff=-19.6,
              letter=(1870, 735), xlabel=(2412, 1336), ylabel=(1888, 1277), zlabel=(1718, 895)),
}

GREY = '#777777'
LINE_STYLES = {
    'line': dict(edge=1.0, core=0),
    'heavy': dict(edge=2.0, core=0),
    'band': dict(edge=4.0, core=2.8),
    'wide': dict(edge=7.5, core=6.8),
}


def project(geo, x, y, z):
    """Turns data values into figure pixels for one panel."""
    x, y, z = np.asarray(x, float), np.asarray(y, float), np.asarray(z, float)
    px = geo['origin'][0] + x * geo['ex'][0] + y * geo['ey'][0] + z * geo['ez'][0]
    py = geo['origin'][1] + x * geo['ex'][1] + y * geo['ey'][1] + z * geo['ez'][1]
    return px, py


def smooth_path(px, py, closed=False):
    """Bezier path through the points, so few values still give a round curve."""
    pts = np.column_stack([px, py])
    if closed:
        pts = np.vstack([pts[-1], pts, pts[:2]])
    else:
        pts = np.vstack([pts[0], pts, pts[-1]])
    verts = [pts[1]]
    codes = [Path.MOVETO]
    for i in range(1, len(pts) - 2):
        verts.append(pts[i] + (pts[i + 1] - pts[i - 1]) / 6)
        verts.append(pts[i + 1] - (pts[i + 2] - pts[i]) / 6)
        verts.append(pts[i + 1])
        codes += [Path.CURVE4] * 3
    return Path(verts, codes)


def draw_curve(ax, geo, x, y, z, weight='line', closed=False):
    """Draws one curve, as a black line or a grey band with black edges."""
    style = LINE_STYLES[weight]
    path = smooth_path(*project(geo, x, y, z), closed=closed)
    ax.add_patch(PathPatch(path, fill=False, ec='black', lw=style['edge'], capstyle='round'))
    if style['core']:
        ax.add_patch(PathPatch(path, fill=False, ec=GREY, lw=style['core'], capstyle='round'))


def draw_axes(ax, geo, letter, xticks, yticks, zticks):
    """Draws the three axis lines, their ticks and all the panel's texts."""
    xmin, xmax = geo['xlim']
    ymin, ymax = geo['ylim']
    zmin, zmax = geo['zlim']
    corners = [(xmax, ymin, zmin), (xmin, ymin, zmin), (xmin, ymax, zmin), (xmin, ymax, zmax)]
    px, py = project(geo, *zip(*corners))
    ax.plot(px, py, color='black', lw=1.7, solid_joinstyle='miter', solid_capstyle='butt')

    for tick in xticks:
        tx, ty = project(geo, tick, ymin, zmin)
        ax.plot([tx, tx - .27 * geo['ey'][0] * 31 / abs(geo['ey'][0])],
                [ty, ty - .27 * geo['ey'][1] * 33 / abs(geo['ey'][1])], color='black', lw=1.2)
        ax.text(tx + geo['xoff'][0], ty + geo['xoff'][1], str(tick), ha='center', va='center',
                fontsize=16, family='Lato')
    for tick in yticks:
        tx, ty = project(geo, xmin, tick, zmin)
        ax.plot([tx, tx - 10], [ty, ty + 3], color='black', lw=1.2)
        ax.text(tx + geo['yoff'][0], ty + geo['yoff'][1], str(tick), ha='center', va='center',
                fontsize=16, family='Lato')
    for tick in zticks:
        tx, ty = project(geo, xmin, ymax, tick)
        ax.plot([tx, tx - 9], [ty, ty], color='black', lw=1.2)
        ax.text(tx + geo['zoff'], ty + 1, str(tick), ha='right', va='center',
                fontsize=16, family='Lato')

    for name, place in zip('XYZ', (geo['xlabel'], geo['ylabel'], geo['zlabel'])):
        ax.text(place[0], place[1], name, ha='center', va='center', fontsize=16, family='Lato')
    ax.text(geo['letter'][0], geo['letter'][1], letter, ha='center', va='center',
            fontsize=41, fontweight='bold', family='Liberation Sans')


def draw_arcs(ax, geo, xs, ys, zs, weights):
    """Draws a panel's rows of curves, the bands first so thin lines stay visible."""
    rows = list(zip(xs, ys, zs, weights))
    for x, y, z, weight in sorted(rows, key=lambda row: LINE_STYLES[row[3]]['core'] == 0):
        draw_curve(ax, geo, x, y, z, weight)


def create_figure():
    """Builds all six panels and saves the figure."""
    fig = plt.figure(figsize=(WIDTH / 100, HEIGHT / 100), dpi=100)
    ax = fig.add_axes([0, 0, 1, 1])
    ax.set_xlim(0, WIDTH)
    ax.set_ylim(HEIGHT, 0)
    ax.axis('off')

    draw_axes(ax, GEOMETRY['A'], 'A', A_XTICKS, A_YTICKS, A_ZTICKS)
    draw_curve(ax, GEOMETRY['A'], A_X, A_Y, A_Z, closed=True)
    draw_axes(ax, GEOMETRY['B'], 'B', B_XTICKS, B_YTICKS, B_ZTICKS)
    draw_curve(ax, GEOMETRY['B'], B_X, B_Y, B_Z, closed=True)
    draw_axes(ax, GEOMETRY['C'], 'C', C_XTICKS, C_YTICKS, C_ZTICKS)
    draw_curve(ax, GEOMETRY['C'], C_X, C_Y, C_Z, closed=True)

    draw_axes(ax, GEOMETRY['D'], 'D', D_XTICKS, D_YTICKS, D_ZTICKS)
    draw_arcs(ax, GEOMETRY['D'], D_X, D_Y, D_Z, D_WEIGHTS)
    draw_axes(ax, GEOMETRY['E'], 'E', E_XTICKS, E_YTICKS, E_ZTICKS)
    draw_arcs(ax, GEOMETRY['E'], E_X, E_Y, E_Z, E_WEIGHTS)
    draw_axes(ax, GEOMETRY['F'], 'F', F_XTICKS, F_YTICKS, F_ZTICKS)
    draw_arcs(ax, GEOMETRY['F'], F_X, F_Y, F_Z, F_WEIGHTS)
    spiral = smooth_path(*project(GEOMETRY['F'], F_SPIRAL_X, F_SPIRAL_Y, F_SPIRAL_Z))
    ax.add_patch(PathPatch(spiral, fill=False, ec='black', lw=7.0, capstyle='round'))

    fig.savefig(OUTPUT_FILENAME, dpi=100)
    plt.close(fig)


if __name__ == "__main__":
    create_figure()
